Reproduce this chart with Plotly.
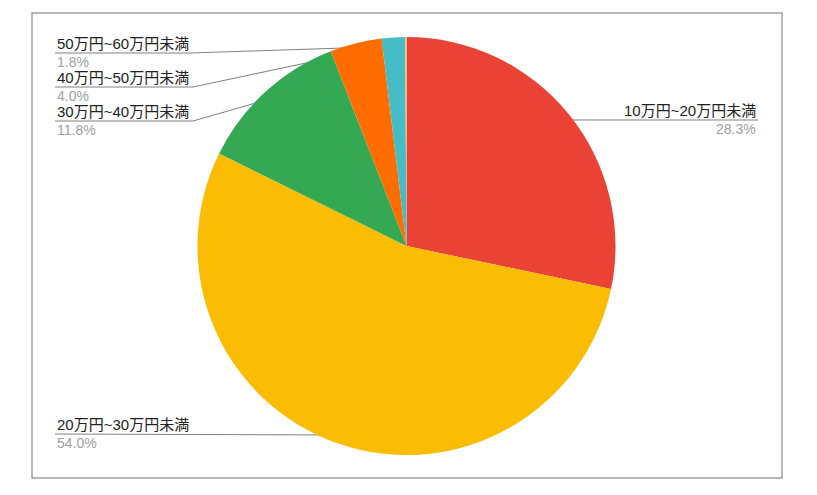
import math

import plotly.graph_objects as go

# Data
labels = [
    "10万円~20万円未満",
    "20万円~30万円未満",
    "30万円~40万円未満",
    "40万円~50万円未満",
    "50万円~60万円未満",
    "60万円以上",
]
values = [28.3, 54.0, 11.8, 4.0, 1.8, 0.1]
colors = ["#EA4335", "#FBBC04", "#34A853", "#FF6D01", "#46BDC6", "#F6C26B"]
shown = [0, 1, 2, 3, 4]  # slices with a label

W, H = 817, 495
CX, CY, R = 406.5, 246, 209

# label layout (pixel positions): side, text x, underline y, elbow x
label_pos = {
    0: ("right", 758, 120, None),
    1: ("left", 55, 434, None),
    2: ("left", 55, 121, 193),
    3: ("left", 55, 87, 193),
    4: ("left", 55, 53, 190),
}

fig = go.Figure()

fig.add_trace(
    go.Pie(
        labels=labels,
        values=values,
        marker=dict(colors=colors, line=dict(width=0)),
        sort=False,
        direction="clockwise",
        rotation=0,
        textinfo="none",
        hoverinfo="label+percent",
        showlegend=False,
        domain=dict(
            x=[(CX - R) / W, (CX + R) / W],
            y=[1 - (CY + R) / H, 1 - (CY - R) / H],
        ),
    )
)

# Leader lines and labels
total = sum(values)
cum = 0
mids = []
for v in values:
    mids.append((cum + v / 2) / total * 2 * math.pi)
    cum += v

font_family = "Liberation Sans, Noto Sans CJK JP"
annotations = []
for i in shown:
    side, tx, ly, ex = label_pos[i]
    a = mids[i]
    dx = CX + 0.957 * R * math.sin(a)
    dy = CY - 0.957 * R * math.cos(a)
    if side == "right":
        xs, ys = [dx, tx], [dy, ly]
        anchor = "right"
    else:
        if ex is None:
            xs, ys = [tx, dx], [ly, dy]
        else:
            xs, ys = [tx, ex, dx], [ly, ly, dy]
        anchor = "left"
    fig.add_trace(
        go.Scatter(
            x=xs, y=ys, mode="lines", line=dict(color="#808080", width=1),
            hoverinfo="skip", showlegend=False,
        )
    )
    fig.add_trace(
        go.Scatter(
            x=[dx], y=[dy], mode="markers",
            marker=dict(color="#9E9E9E", size=5),
            hoverinfo="skip", showlegend=False,
        )
    )
    annotations.append(dict(
        x=tx, y=ly - 10, xref="x", yref="y", text=labels[i], showarrow=False,
        xanchor=anchor, yanchor="middle",
        font=dict(size=15, color="#222222", family=font_family),
    ))
    annotations.append(dict(
        x=tx, y=ly + 9, xref="x", yref="y", text=f"{values[i]:.1f}%", showarrow=False,
        xanchor=anchor, yanchor="middle",
        font=dict(size=14, color="#A0A0A0", family=font_family),
    ))

fig.update_layout(
    width=W,
    height=H,
    margin=dict(l=0, r=0, t=0, b=0),
    paper_bgcolor="white",
    plot_bgcolor="rgba(0,0,0,0)",
    xaxis=dict(range=[0, W], visible=False, fixedrange=True, domain=[0, 1]),
    yaxis=dict(range=[H, 0], visible=False, fixedrange=True, domain=[0, 1]),
    annotations=annotations,
    shapes=[
        dict(type="rect", xref="x", yref="y", x0=32, y0=13, x1=782, y1=478,
             line=dict(color="#9E9E9E", width=1.5), layer="below"),
    ],
)

fig.write_html(
    "out.html",
    config={"displayModeBar": False},
    post_script="document.body.style.margin='0';",
)
